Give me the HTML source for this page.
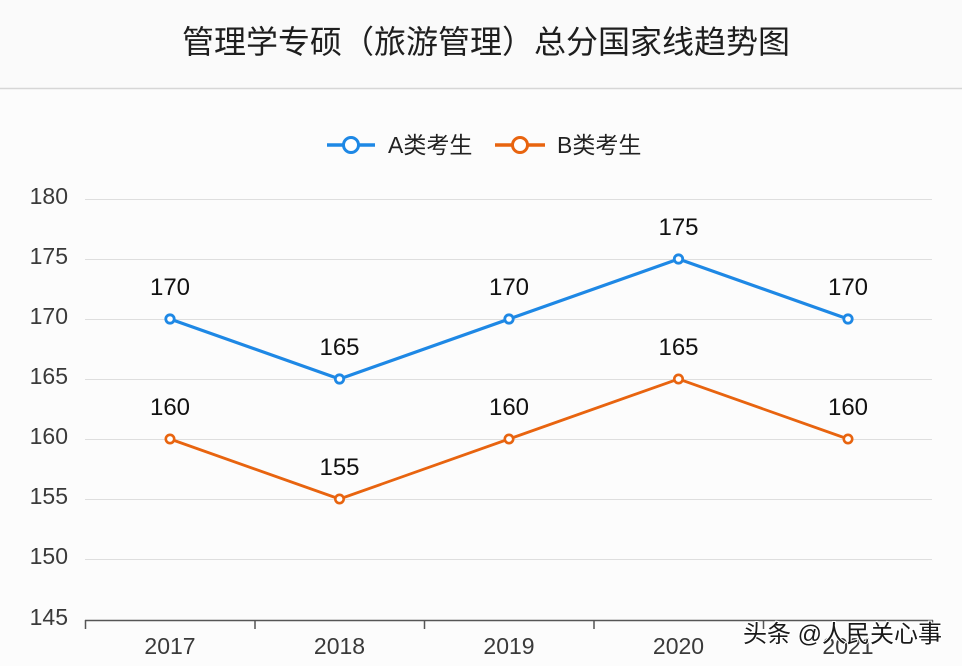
<!DOCTYPE html>
<html><head><meta charset="utf-8"><style>
html,body{margin:0;padding:0;background:#fbfbfb;}
svg{display:block;}
</style></head><body>
<svg width="962" height="666" viewBox="0 0 962 666" xmlns="http://www.w3.org/2000/svg">
<rect x="0" y="0" width="962" height="666" fill="#fcfcfc"/>
<rect x="0" y="0" width="962" height="88" fill="#fafafa"/>
<text x="486" y="53" text-anchor="middle" font-family="'Liberation Sans','Noto Sans CJK SC',sans-serif" font-size="32" fill="#1e1e1e">管理学专硕（旅游管理）总分国家线趋势图</text>
<line x1="0" y1="88.5" x2="962" y2="88.5" stroke="#d6d6d6" stroke-width="1.5"/>
<!-- legend -->
<line x1="327" y1="145" x2="375" y2="145" stroke="#1e88e5" stroke-width="3.5"/>
<circle cx="351" cy="145" r="7.5" fill="#fff" stroke="#1e88e5" stroke-width="3"/>
<text x="388" y="153" font-family="'Liberation Sans','Noto Sans CJK SC',sans-serif" font-size="23" fill="#222">A类考生</text>
<line x1="495" y1="145" x2="545" y2="145" stroke="#e8640f" stroke-width="3.5"/>
<circle cx="520" cy="145" r="7.5" fill="#fff" stroke="#e8640f" stroke-width="3"/>
<text x="557" y="153" font-family="'Liberation Sans','Noto Sans CJK SC',sans-serif" font-size="23" fill="#222">B类考生</text>
<!-- grid -->
<g stroke="#dedede" stroke-width="1">
<line x1="85" y1="199.5" x2="932" y2="199.5"/>
<line x1="85" y1="259.5" x2="932" y2="259.5"/>
<line x1="85" y1="319.5" x2="932" y2="319.5"/>
<line x1="85" y1="379.5" x2="932" y2="379.5"/>
<line x1="85" y1="439.5" x2="932" y2="439.5"/>
<line x1="85" y1="499.5" x2="932" y2="499.5"/>
<line x1="85" y1="559.5" x2="932" y2="559.5"/>
</g>
<g font-family="'Liberation Sans',sans-serif" font-size="23" fill="#3a3a3a" text-anchor="end">
<text x="68" y="204">180</text>
<text x="68" y="264">175</text>
<text x="68" y="324">170</text>
<text x="68" y="384">165</text>
<text x="68" y="444">160</text>
<text x="68" y="504">155</text>
<text x="68" y="564">150</text>
<text x="68" y="625">145</text>
</g>
<!-- axis -->
<line x1="85" y1="620.5" x2="933" y2="620.5" stroke="#555" stroke-width="1.5"/>
<g stroke="#555" stroke-width="1.5">
<line x1="85.5" y1="620" x2="85.5" y2="629"/>
<line x1="255" y1="620" x2="255" y2="629"/>
<line x1="424.5" y1="620" x2="424.5" y2="629"/>
<line x1="594" y1="620" x2="594" y2="629"/>
<line x1="763.5" y1="620" x2="763.5" y2="629"/>
<line x1="932.5" y1="620" x2="932.5" y2="629"/>
</g>
<g font-family="'Liberation Sans',sans-serif" font-size="23" fill="#3a3a3a" text-anchor="middle">
<text x="170" y="654">2017</text>
<text x="339.5" y="654">2018</text>
<text x="509" y="654">2019</text>
<text x="678.5" y="654">2020</text>
<text x="848" y="654">2021</text>
</g>
<!-- series -->
<polyline points="170,319 339.5,379 509,319 678.5,259 848,319" fill="none" stroke="#1e88e5" stroke-width="3.2" stroke-linejoin="round"/>
<polyline points="170,439 339.5,499 509,439 678.5,379 848,439" fill="none" stroke="#e8640f" stroke-width="2.8" stroke-linejoin="round"/>
<g fill="#fff" stroke="#1e88e5" stroke-width="2.8">
<circle cx="170" cy="319" r="4.2"/><circle cx="339.5" cy="379" r="4.2"/><circle cx="509" cy="319" r="4.2"/><circle cx="678.5" cy="259" r="4.2"/><circle cx="848" cy="319" r="4.2"/>
</g>
<g fill="#fff" stroke="#e8640f" stroke-width="2.6">
<circle cx="170" cy="439" r="4.2"/><circle cx="339.5" cy="499" r="4.2"/><circle cx="509" cy="439" r="4.2"/><circle cx="678.5" cy="379" r="4.2"/><circle cx="848" cy="439" r="4.2"/>
</g>
<g font-family="'Liberation Sans',sans-serif" font-size="24" fill="#111" text-anchor="middle">
<text x="170" y="295">170</text>
<text x="339.5" y="355">165</text>
<text x="509" y="295">170</text>
<text x="678.5" y="235">175</text>
<text x="848" y="295">170</text>
<text x="170" y="415">160</text>
<text x="339.5" y="475">155</text>
<text x="509" y="415">160</text>
<text x="678.5" y="355">165</text>
<text x="848" y="415">160</text>
</g>
<!-- watermark -->
<text x="743" y="642" font-family="'Liberation Sans','Noto Sans CJK SC',sans-serif" font-size="24" fill="#1a1a1a" stroke="#fff" stroke-width="2" paint-order="stroke">头条 @人民关心事</text>
</svg>
</body></html>
